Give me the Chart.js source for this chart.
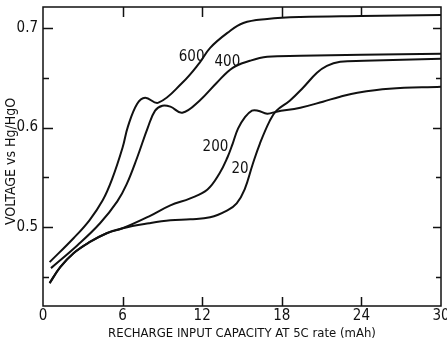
<!DOCTYPE html>
<html>
<head>
<meta charset="utf-8">
<script src="https://cdn.jsdelivr.net/npm/chart.js@4/dist/chart.umd.min.js"></script>
<style>
  html, body { margin: 0; padding: 0; background: #fff; }
  #wrap { width: 447px; height: 342px; }
</style>
</head>
<body>
<div id="wrap"><canvas id="c" width="447" height="342"></canvas></div>
<script>
// Recharge curves: cell voltage against recharge input, one curve per rate label
const capacityTicks = [0, 6, 12, 18, 24, 30];
const voltageTicks = [0.45, 0.5, 0.55, 0.6, 0.65, 0.7];
const voltageTickLabels = ['', '0.5', '', '0.6', '', '0.7'];

const cap600 = [0.5, 2.3, 3.5, 4.5, 5.2, 6.0, 6.4, 7.1, 7.7, 8.7, 10.5, 11.8, 12.6, 13.9, 15.1, 16.9, 19.4, 24, 30];
const volt600 = [0.465, 0.489, 0.507, 0.527, 0.548, 0.580, 0.601, 0.624, 0.630, 0.625, 0.645, 0.665, 0.680, 0.695, 0.705, 0.709, 0.711, 0.712, 0.713];

const cap400 = [0.6, 2.6, 4.3, 5.6, 6.3, 7.1, 7.9, 8.45, 9.0, 9.6, 10.5, 11.8, 13.1, 14.3, 15.6, 16.9, 19.4, 24, 30];
const volt400 = [0.459, 0.482, 0.504, 0.526, 0.543, 0.570, 0.600, 0.617, 0.622, 0.621, 0.615, 0.627, 0.645, 0.660, 0.667, 0.671, 0.672, 0.673, 0.674];

const cap200 = [0.5, 1.3, 2.3, 3.5, 4.8, 6.0, 8.0, 9.6, 11.1, 12.4, 13.3, 13.9, 14.3, 14.7, 15.2, 15.75, 16.2, 16.9, 17.6, 19.4, 21.1, 22.4, 23.7, 26.1, 30];
const volt200 = [0.444, 0.460, 0.474, 0.485, 0.494, 0.499, 0.511, 0.522, 0.529, 0.538, 0.554, 0.570, 0.584, 0.599, 0.610, 0.617, 0.617, 0.614, 0.616, 0.620, 0.626, 0.631, 0.635, 0.639, 0.641];

const cap20 = [0.5, 1.3, 2.3, 3.5, 4.8, 6.0, 8.0, 9.6, 11.1, 12.6, 13.9, 14.6, 15.2, 15.8, 16.35, 17.1, 17.6, 18.6, 19.6, 20.65, 21.4, 22.4, 24.2, 30];
const volt20 = [0.444, 0.460, 0.474, 0.485, 0.494, 0.499, 0.504, 0.507, 0.508, 0.510, 0.517, 0.524, 0.538, 0.563, 0.584, 0.607, 0.617, 0.627, 0.640, 0.655, 0.662, 0.666, 0.667, 0.669];

const rateNames = ['600', '400', '200', '20'];
// where each rate name is written, in data units
const rateLabelCap = [11.2, 13.9, 13.0, 14.85];
const rateLabelVolt = [0.671, 0.666, 0.580, 0.558];

const FONT = '"DejaVu Sans Condensed", "Liberation Sans Narrow", "Liberation Sans", sans-serif';
const INK = '#111';
const Y_TITLE = 'VOLTAGE vs Hg/HgO';

function points(xs, ys) {
  return xs.map((x, i) => ({ x: x, y: ys[i] }));
}

function curve(xs, ys) {
  return {
    data: points(xs, ys),
    borderColor: INK,
    borderWidth: 2,
    pointRadius: 0,
    fill: false,
    tension: 0.4
  };
}

// Box frame, inward tick marks on all four sides, y title and curve names
const framePlugin = {
  id: 'frame',
  afterDatasetsDraw(chart) {
    const { ctx, chartArea: a } = chart;
    const xs = chart.scales.x, ys = chart.scales.y;
    ctx.save();
    ctx.strokeStyle = INK;
    ctx.lineWidth = 1.5;
    ctx.strokeRect(a.left, a.top, a.right - a.left, a.bottom - a.top);

    ctx.beginPath();
    xs.ticks.forEach(t => {
      if (t.value <= xs.min || t.value >= xs.max) return;
      const px = Math.round(xs.getPixelForValue(t.value)) + 0.5;
      ctx.moveTo(px, a.bottom);
      ctx.lineTo(px, a.bottom - 9);
      ctx.moveTo(px, a.top);
      ctx.lineTo(px, a.top + 10);
    });
    ys.ticks.forEach((t, i) => {
      const py = Math.round(ys.getPixelForValue(t.value)) + 0.5;
      const major = voltageTickLabels[i] !== '';
      ctx.moveTo(a.left, py);
      ctx.lineTo(a.left + (major ? 10 : 6), py);
      ctx.moveTo(a.right, py);
      ctx.lineTo(a.right - (major ? 8 : 5), py);
    });
    ctx.stroke();

    ctx.fillStyle = INK;
    ctx.textAlign = 'center';
    ctx.textBaseline = 'middle';

    ctx.save();
    ctx.font = '14px ' + FONT;
    ctx.translate(11, ys.getPixelForValue(0.566));
    ctx.rotate(-Math.PI / 2);
    ctx.fillText(Y_TITLE, 0, 0);
    ctx.restore();

    ctx.font = '15px ' + FONT;
    rateNames.forEach((name, i) => {
      ctx.fillText(name, xs.getPixelForValue(rateLabelCap[i]), ys.getPixelForValue(rateLabelVolt[i]));
    });
    ctx.restore();
  }
};

new Chart(document.getElementById('c'), {
  type: 'line',
  data: {
    datasets: [
      curve(cap600, volt600),
      curve(cap400, volt400),
      curve(cap200, volt200),
      curve(cap20, volt20)
    ]
  },
  options: {
    responsive: false,
    devicePixelRatio: 1,
    animation: false,
    events: [],
    layout: { padding: { top: 7, right: 6, left: 0, bottom: 0 } },
    plugins: { legend: { display: false }, tooltip: { enabled: false } },
    scales: {
      x: {
        type: 'linear',
        min: 0,
        max: 30,
        afterBuildTicks: s => { s.ticks = capacityTicks.map(v => ({ value: v })); },
        afterFit: s => { s.height = 36; s.paddingLeft = 0; s.paddingRight = 0; },
        grid: { display: false, drawTicks: false },
        border: { display: false },
        ticks: {
          color: INK,
          padding: 1,
          maxRotation: 0,
          autoSkip: false,
          font: { family: FONT, size: 15 },
          callback: v => String(v)
        },
        title: {
          display: true,
          text: 'RECHARGE INPUT CAPACITY AT 5C rate (mAh)',
          color: INK,
          font: { family: FONT, size: 13 },
          padding: { top: 0, bottom: 1 }
        }
      },
      y: {
        type: 'linear',
        min: 0.421,
        max: 0.721,
        afterBuildTicks: s => { s.ticks = voltageTicks.map(v => ({ value: v })); },
        afterFit: s => { s.width = 43; s.paddingTop = 0; s.paddingBottom = 0; },
        grid: { display: false, drawTicks: false },
        border: { display: false },
        ticks: {
          color: INK,
          padding: 5,
          autoSkip: false,
          font: { family: FONT, size: 15 },
          callback: (v, i) => voltageTickLabels[i]
        },
        title: { display: false }
      }
    }
  },
  plugins: [framePlugin]
});
</script>
</body>
</html>
